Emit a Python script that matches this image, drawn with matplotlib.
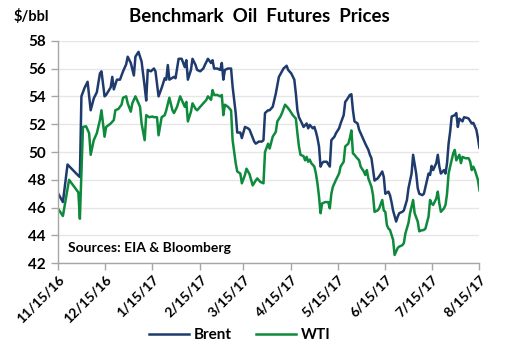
import pandas as pd
import matplotlib
matplotlib.use("Agg")
import matplotlib.pyplot as plt
import matplotlib.dates as mdates
from matplotlib.ticker import FuncFormatter

# Data ($/bbl)
brent_dates = [
    "2016-11-15", "2016-11-18", "2016-11-21", "2016-11-28", "2016-11-29", "2016-11-30",
    "2016-12-02", "2016-12-04", "2016-12-06", "2016-12-08", "2016-12-10", "2016-12-12",
    "2016-12-13", "2016-12-15", "2016-12-16", "2016-12-19", "2016-12-20", "2016-12-21",
    "2016-12-23", "2016-12-25", "2016-12-27", "2016-12-29", "2016-12-30", "2017-01-01",
    "2017-01-03", "2017-01-04", "2017-01-06", "2017-01-08", "2017-01-10", "2017-01-11",
    "2017-01-12", "2017-01-14", "2017-01-16", "2017-01-17", "2017-01-19", "2017-01-21",
    "2017-01-23", "2017-01-24", "2017-01-25", "2017-01-26", "2017-01-29", "2017-01-30",
    "2017-02-01", "2017-02-03", "2017-02-05", "2017-02-06", "2017-02-07", "2017-02-09",
    "2017-02-10", "2017-02-12", "2017-02-13", "2017-02-15", "2017-02-17", "2017-02-18",
    "2017-02-20", "2017-02-22", "2017-02-23", "2017-02-24", "2017-02-26", "2017-02-28",
    "2017-03-01", "2017-03-02", "2017-03-03", "2017-03-05", "2017-03-07", "2017-03-08",
    "2017-03-10", "2017-03-11", "2017-03-13", "2017-03-14", "2017-03-16", "2017-03-18",
    "2017-03-19", "2017-03-22", "2017-03-23", "2017-03-25", "2017-03-27", "2017-03-28",
    "2017-03-29", "2017-03-31", "2017-04-01", "2017-04-03", "2017-04-05", "2017-04-06",
    "2017-04-07", "2017-04-09", "2017-04-10", "2017-04-12", "2017-04-13", "2017-04-15",
    "2017-04-17", "2017-04-18", "2017-04-19", "2017-04-20", "2017-04-22", "2017-04-23",
    "2017-04-25", "2017-04-26", "2017-04-27", "2017-04-29", "2017-04-30", "2017-05-01",
    "2017-05-02", "2017-05-03", "2017-05-04", "2017-05-05", "2017-05-06", "2017-05-08",
    "2017-05-10", "2017-05-11", "2017-05-13", "2017-05-14", "2017-05-16", "2017-05-17",
    "2017-05-19", "2017-05-20", "2017-05-21", "2017-05-23", "2017-05-24", "2017-05-25",
    "2017-05-26", "2017-05-28", "2017-05-29", "2017-05-31", "2017-06-01", "2017-06-02",
    "2017-06-04", "2017-06-05", "2017-06-06", "2017-06-08", "2017-06-10", "2017-06-11",
    "2017-06-13", "2017-06-14", "2017-06-15", "2017-06-17", "2017-06-18", "2017-06-19",
    "2017-06-20", "2017-06-22", "2017-06-23", "2017-06-24", "2017-06-26", "2017-06-27",
    "2017-06-29", "2017-06-30", "2017-07-02", "2017-07-03", "2017-07-05", "2017-07-06",
    "2017-07-07", "2017-07-09", "2017-07-10", "2017-07-12", "2017-07-13", "2017-07-14",
    "2017-07-15", "2017-07-16", "2017-07-18", "2017-07-19", "2017-07-20", "2017-07-21",
    "2017-07-23", "2017-07-24", "2017-07-25", "2017-07-26", "2017-07-27", "2017-07-28",
    "2017-07-30", "2017-07-31", "2017-08-01", "2017-08-02", "2017-08-04", "2017-08-05",
    "2017-08-07", "2017-08-08", "2017-08-10", "2017-08-11", "2017-08-13", "2017-08-14",
    "2017-08-15",
]
brent = [
    47.0, 46.4, 49.1, 48.3, 48.2, 54.0,
    54.6, 55.05, 53.0, 53.85, 54.3, 55.65,
    55.8, 54.0, 54.1, 54.65, 55.4, 54.5,
    55.2, 55.2, 55.8, 56.3, 56.85, 56.4,
    55.5, 56.85, 57.2, 56.5, 54.7, 53.7,
    55.9, 55.8, 56.0, 55.8, 54.0, 54.6,
    55.3, 55.2, 56.25, 55.2, 55.4, 55.3,
    56.7, 56.7, 56.1, 56.6, 55.2, 55.9,
    56.7, 56.25, 55.9, 55.8, 56.0, 56.25,
    56.7, 56.4, 56.6, 56.0, 56.0, 55.9,
    56.4, 55.2, 55.9, 56.0, 56.0, 54.7,
    52.8, 51.4, 51.4, 51.0, 51.8, 51.7,
    51.6, 50.75, 50.6, 50.75, 50.75, 50.85,
    52.8, 53.0, 53.0, 53.25, 54.2, 54.8,
    55.4, 55.8, 56.0, 56.2, 55.9, 55.65,
    55.2, 54.2, 53.0, 52.5, 52.05, 51.8,
    52.05, 51.7, 51.95, 51.7, 51.8, 51.45,
    51.0, 50.4, 48.95, 49.2, 49.3, 49.3,
    48.95, 50.85, 51.1, 51.35, 51.7, 52.05,
    52.65, 53.6, 53.75, 54.1, 54.15, 53.0,
    52.2, 52.05, 51.6, 51.1, 50.85, 50.6,
    50.15, 49.8, 49.55, 47.95, 48.1, 48.25,
    48.6, 48.2, 47.0, 47.15, 46.9, 46.4,
    45.8, 45.0, 45.35, 45.6, 45.7, 45.8,
    46.55, 47.4, 48.45, 49.8, 48.45, 47.4,
    47.0, 46.9, 47.0, 47.95, 48.45, 48.35,
    49.0, 48.7, 49.2, 49.8, 48.95, 48.45,
    48.7, 48.45, 49.2, 50.6, 51.45, 52.55,
    52.65, 52.8, 51.8, 52.4, 52.2, 52.5,
    52.45, 52.4, 52.05, 52.1, 51.6, 51.0,
    50.3,
]

wti_dates = [
    "2016-11-15", "2016-11-18", "2016-11-22", "2016-11-28", "2016-11-29", "2016-12-01",
    "2016-12-03", "2016-12-05", "2016-12-06", "2016-12-08", "2016-12-10", "2016-12-12",
    "2016-12-13", "2016-12-15", "2016-12-16", "2016-12-19", "2016-12-21", "2016-12-22",
    "2016-12-24", "2016-12-26", "2016-12-27", "2016-12-29", "2016-12-30", "2017-01-01",
    "2017-01-02", "2017-01-04", "2017-01-07", "2017-01-08", "2017-01-10", "2017-01-11",
    "2017-01-13", "2017-01-15", "2017-01-16", "2017-01-18", "2017-01-19", "2017-01-21",
    "2017-01-23", "2017-01-24", "2017-01-26", "2017-01-28", "2017-01-29", "2017-01-31",
    "2017-02-02", "2017-02-03", "2017-02-05", "2017-02-06", "2017-02-07", "2017-02-09",
    "2017-02-10", "2017-02-12", "2017-02-13", "2017-02-15", "2017-02-17", "2017-02-19",
    "2017-02-20", "2017-02-22", "2017-02-23", "2017-02-24", "2017-02-26", "2017-02-28",
    "2017-03-01", "2017-03-02", "2017-03-03", "2017-03-05", "2017-03-07", "2017-03-08",
    "2017-03-10", "2017-03-11", "2017-03-13", "2017-03-14", "2017-03-16", "2017-03-17",
    "2017-03-19", "2017-03-21", "2017-03-23", "2017-03-24", "2017-03-26", "2017-03-28",
    "2017-03-29", "2017-03-31", "2017-04-01", "2017-04-03", "2017-04-05", "2017-04-06",
    "2017-04-08", "2017-04-09", "2017-04-11", "2017-04-13", "2017-04-14", "2017-04-16",
    "2017-04-18", "2017-04-19", "2017-04-20", "2017-04-21", "2017-04-23", "2017-04-24",
    "2017-04-25", "2017-04-26", "2017-04-27", "2017-04-28", "2017-04-30", "2017-05-01",
    "2017-05-02", "2017-05-03", "2017-05-04", "2017-05-05", "2017-05-07", "2017-05-09",
    "2017-05-10", "2017-05-11", "2017-05-12", "2017-05-14", "2017-05-16", "2017-05-17",
    "2017-05-19", "2017-05-20", "2017-05-22", "2017-05-23", "2017-05-24", "2017-05-25",
    "2017-05-26", "2017-05-27", "2017-05-29", "2017-05-30", "2017-06-01", "2017-06-02",
    "2017-06-03", "2017-06-04", "2017-06-06", "2017-06-07", "2017-06-08", "2017-06-10",
    "2017-06-11", "2017-06-13", "2017-06-14", "2017-06-15", "2017-06-16", "2017-06-17",
    "2017-06-18", "2017-06-20", "2017-06-21", "2017-06-23", "2017-06-24", "2017-06-26",
    "2017-06-27", "2017-06-28", "2017-06-30", "2017-07-01", "2017-07-03", "2017-07-04",
    "2017-07-06", "2017-07-07", "2017-07-08", "2017-07-10", "2017-07-11", "2017-07-13",
    "2017-07-14", "2017-07-15", "2017-07-16", "2017-07-18", "2017-07-19", "2017-07-20",
    "2017-07-21", "2017-07-23", "2017-07-24", "2017-07-25", "2017-07-26", "2017-07-27",
    "2017-07-29", "2017-07-30", "2017-07-31", "2017-08-02", "2017-08-03", "2017-08-04",
    "2017-08-06", "2017-08-08", "2017-08-09", "2017-08-10", "2017-08-11", "2017-08-12",
    "2017-08-14", "2017-08-15",
]
wti = [
    45.9, 45.4, 48.0, 47.1, 45.2, 51.8,
    51.85, 51.35, 49.8, 50.85, 51.35, 52.3,
    53.0, 51.1, 51.8, 52.05, 52.3, 53.0,
    53.1, 53.4, 53.9, 54.0, 53.5, 52.9,
    53.5, 54.0, 53.25, 52.05, 50.85, 52.65,
    52.5, 52.55, 52.5, 52.5, 51.2, 52.5,
    52.65, 53.0, 53.9, 53.0, 52.8, 53.25,
    54.0, 53.75, 53.25, 53.6, 52.2, 52.9,
    53.5, 53.1, 53.0, 53.25, 53.5, 53.75,
    54.0, 53.75, 54.45, 54.1, 54.1, 54.0,
    54.1, 52.65, 53.4, 53.25, 53.0, 50.85,
    49.2, 48.6, 48.45, 47.75, 48.35, 48.8,
    48.4, 47.6, 47.95, 48.1, 47.85, 47.75,
    50.0, 50.6, 50.25, 51.1, 51.45, 52.2,
    52.55, 52.8, 53.4, 53.15, 53.0, 52.65,
    52.4, 51.35, 50.4, 49.8, 49.7, 49.4,
    49.65, 49.3, 49.45, 49.2, 48.95, 48.45,
    47.75, 46.8, 45.6, 46.3, 46.4, 46.4,
    45.95, 47.0, 47.5, 48.0, 48.45, 48.95,
    49.3, 50.4, 50.6, 51.0, 51.55, 49.9,
    49.8, 49.65, 49.4, 48.95, 48.6, 48.35,
    48.7, 48.1, 47.5, 46.9, 45.7, 45.8,
    45.95, 46.55, 45.8, 45.7, 44.75, 44.5,
    44.4, 43.7, 42.6, 43.1, 43.2, 43.3,
    43.45, 44.15, 44.9, 45.6, 46.55, 45.6,
    45.0, 44.3, 44.35, 44.4, 44.5, 45.35,
    46.55, 46.3, 46.2, 46.65, 47.15, 46.3,
    45.7, 45.95, 46.2, 47.0, 48.45, 48.95,
    49.9, 50.15, 49.4, 49.8, 49.2, 49.65,
    49.55, 49.55, 49.3, 48.7, 48.95, 48.7,
    48.0, 47.25,
]

y_ticks = [42, 44, 46, 48, 50, 52, 54, 56, 58]

brent_color = "#1F3B6E"
wti_color = "#0D8A3C"
axis_gray = "#A6A6A6"
grid_gray = "#E6E6E6"

plt.rcParams["font.family"] = ["Lato", "DejaVu Sans"]
plt.rcParams["font.weight"] = "bold"

fig = plt.figure(figsize=(5.05, 3.47), dpi=100)
ax = fig.add_axes([0.1154, 0.2412, 0.834, 0.6415])

ax.plot(pd.to_datetime(brent_dates), brent, color=brent_color, lw=1.8, label="Brent")
ax.plot(pd.to_datetime(wti_dates), wti, color=wti_color, lw=1.8, label="WTI")

ax.set_xlim(pd.Timestamp("2016-11-15"), pd.Timestamp("2017-08-15"))
ax.set_ylim(42, 58)
ax.set_yticks(y_ticks)
ax.yaxis.grid(True, color=grid_gray, lw=1)
ax.set_axisbelow(True)

ax.xaxis.set_major_locator(mdates.MonthLocator(bymonthday=15))
ax.xaxis.set_major_formatter(FuncFormatter(
    lambda v, pos: (lambda d: f"{d.month}/{d.day}/{d:%y}")(mdates.num2date(v))))

for s in ["top", "right"]:
    ax.spines[s].set_visible(False)
for s in ["left", "bottom"]:
    ax.spines[s].set_color(axis_gray)
    ax.spines[s].set_linewidth(1)

ax.tick_params(axis="y", length=5, width=1, color=axis_gray, labelsize=11, pad=4)
ax.tick_params(axis="x", length=5, width=1, color=axis_gray, labelsize=10, pad=2)
for lab in ax.get_yticklabels():
    lab.set_fontweight("bold")
for lab in ax.get_xticklabels():
    lab.set_rotation(45)
    lab.set_ha("right")
    lab.set_rotation_mode("anchor")
    lab.set_fontweight("bold")

fig.text(0.513, 0.952, "Benchmark  Oil  Futures  Prices", ha="center", va="center",
         fontsize=13.5, fontweight="bold")
fig.text(0.026, 0.952, "$/bbl", ha="left", va="center", fontsize=10.5, fontweight="bold")
ax.text(0.024, 0.07, "Sources: EIA & Bloomberg", transform=ax.transAxes,
        ha="left", va="center", fontsize=10, fontweight="bold")

fig.legend(loc="center", bbox_to_anchor=(0.475, 0.035), ncol=2, frameon=False,
           prop={"size": 11, "weight": "bold"}, handlelength=2.6, columnspacing=1.6,
           handletextpad=0.3)

fig.savefig("out.png", dpi=100)
